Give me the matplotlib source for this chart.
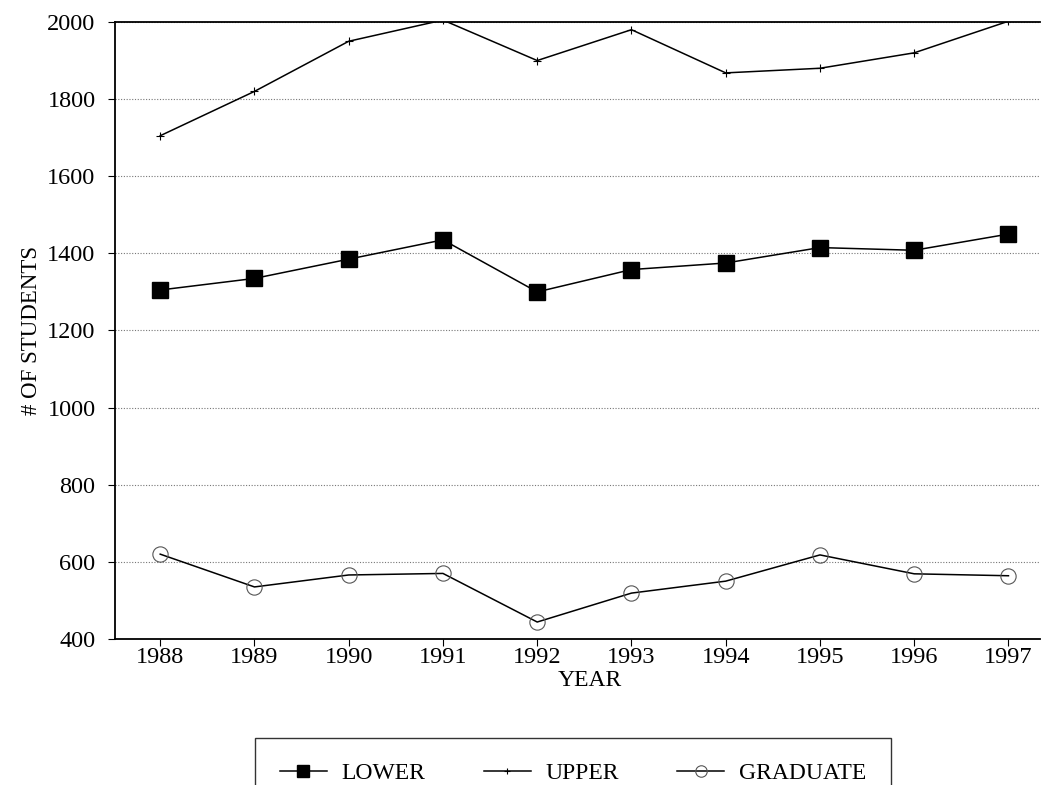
import matplotlib
matplotlib.use("Agg")
import matplotlib.pyplot as plt

years = [1988, 1989, 1990, 1991, 1992, 1993, 1994, 1995, 1996, 1997]
lower = [1305, 1335, 1385, 1435, 1300, 1358, 1375, 1415, 1408, 1450]
upper = [1705, 1820, 1950, 2005, 1900, 1980, 1868, 1880, 1920, 2002]
graduate = [620, 535, 566, 570, 444, 519, 550, 618, 569, 564]
yticks = [400, 600, 800, 1000, 1200, 1400, 1600, 1800, 2000]

plt.rcParams['font.family'] = ['Liberation Serif', 'DejaVu Serif']

fig = plt.figure(figsize=(10.49, 7.85), dpi=100)
ax = fig.add_axes([0.1096, 0.186, 0.8814, 0.786])

ax.plot(years, lower, color='black', lw=1.1, marker='s', markersize=12,
        markerfacecolor='black', markeredgecolor='black', label='LOWER')
ax.plot(years, upper, color='black', lw=1.1, marker='+', markersize=6,
        markeredgewidth=0.8, label='UPPER')
ax.plot(years, graduate, color='black', lw=1.1, marker='o', markersize=11,
        markerfacecolor='none', markeredgecolor='#555555', markeredgewidth=0.8,
        label='GRADUATE')

ax.set_xlim(1987.52, 1997.33)
ax.set_ylim(400, 2000)
ax.set_xticks(years)
ax.set_xticklabels([str(y) for y in years], fontsize=17.5)
ax.set_yticks(yticks)
ax.set_yticklabels([str(v) for v in yticks], fontsize=17.5)
ax.yaxis.grid(True, linestyle=(0, (1, 1.5)), color='#777777', lw=0.8)
ax.set_axisbelow(True)
ax.tick_params(axis='both', direction='out', length=5, width=0.8, colors='black')
ax.tick_params(axis='x', pad=1)
ax.tick_params(axis='y', pad=9)
for s in ['left', 'bottom', 'top']:
    ax.spines[s].set_color('black')
    ax.spines[s].set_linewidth(1.3)
ax.spines['right'].set_visible(False)

ax.set_xlabel('YEAR', fontsize=17)
ax.xaxis.set_label_coords(0.514, -0.05)
ax.set_ylabel('# OF STUDENTS', fontsize=16.5, labelpad=4)

leg = fig.legend(loc='upper left', bbox_to_anchor=(0.243, 1 - 738 / 785, 0.606, 0.0),
                 ncol=3, fontsize=17, frameon=True, fancybox=False,
                 edgecolor='black', mode='expand', borderpad=1.05,
                 borderaxespad=0, handlelength=2.0, handletextpad=0.6,
                 columnspacing=2.5, markerscale=0.75)
leg.get_frame().set_linewidth(1.0)

fig.savefig('out.png', dpi=100)
